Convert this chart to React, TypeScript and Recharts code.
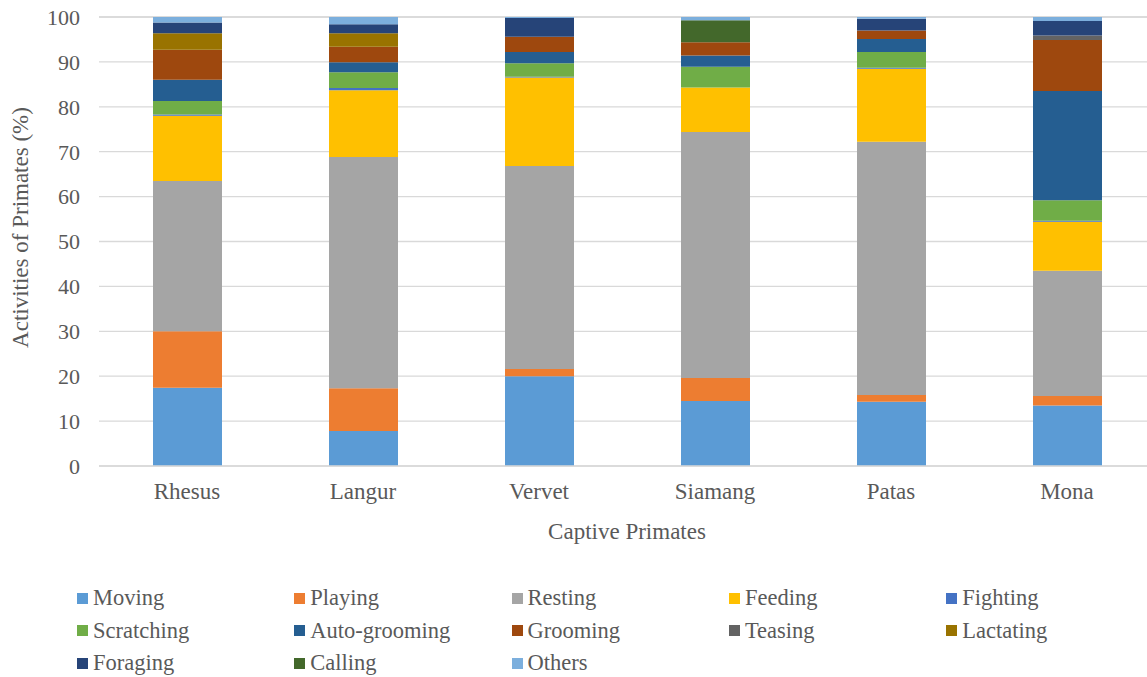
import React from 'react';
import { BarChart, Bar, XAxis, YAxis, CartesianGrid, Label } from 'recharts';

const primates = ['Rhesus', 'Langur', 'Vervet', 'Siamang', 'Patas', 'Mona'];

// activity shares (%) per primate, bottom of stack first
const moving = [17.4, 7.8, 20.0, 14.5, 14.3, 13.5];
const playing = [12.6, 9.5, 1.6, 5.1, 1.5, 2.1];
const resting = [33.5, 51.5, 45.2, 54.8, 56.4, 27.9];
const feeding = [14.5, 14.9, 19.7, 9.9, 16.3, 10.9];
const fighting = [0.3, 0.5, 0.2, 0, 0.2, 0.2];
const scratching = [3.0, 3.5, 3.0, 4.6, 3.5, 4.6];
const autoGrooming = [4.7, 2.2, 2.5, 2.5, 2.9, 24.3];
const grooming = [6.7, 3.5, 3.4, 3.0, 1.9, 11.4];
const teasing = [0, 0, 0, 0, 0, 1.0];
const lactating = [3.7, 3.0, 0, 0, 0, 0];
const foraging = [2.4, 2.0, 4.2, 0, 2.6, 3.2];
const calling = [0, 0, 0, 4.9, 0, 0];
const others = [1.2, 1.6, 0.2, 0.7, 0.4, 0.9];

const yTicks = [0, 10, 20, 30, 40, 50, 60, 70, 80, 90, 100];

const series = [
  { key: 'Moving', values: moving, color: '#5B9BD5' },
  { key: 'Playing', values: playing, color: '#ED7D31' },
  { key: 'Resting', values: resting, color: '#A5A5A5' },
  { key: 'Feeding', values: feeding, color: '#FFC000' },
  { key: 'Fighting', values: fighting, color: '#4472C4' },
  { key: 'Scratching', values: scratching, color: '#70AD47' },
  { key: 'Auto-grooming', values: autoGrooming, color: '#255E91' },
  { key: 'Grooming', values: grooming, color: '#9E480E' },
  { key: 'Teasing', values: teasing, color: '#636363' },
  { key: 'Lactating', values: lactating, color: '#997300' },
  { key: 'Foraging', values: foraging, color: '#264478' },
  { key: 'Calling', values: calling, color: '#43682B' },
  { key: 'Others', values: others, color: '#7CAFDD' },
];

const data = primates.map((name, i) => {
  const row: Record<string, string | number> = { name };
  series.forEach((s) => {
    row[s.key] = s.values[i];
  });
  return row;
});

const FONT = 'Liberation Serif';
const TEXT = '#595959';

function ChartLegend() {
  return (
    <div
      style={{
        position: 'absolute',
        left: 77,
        top: 582,
        display: 'grid',
        gridTemplateColumns: 'repeat(5, 217.3px)',
        gridAutoRows: '32.5px',
        fontFamily: FONT,
        fontSize: 22.5,
        lineHeight: '32px',
        color: TEXT,
      }}
    >
      {series.map((s) => (
        <div key={s.key} style={{ display: 'flex', alignItems: 'center', whiteSpace: 'nowrap' }}>
          <span style={{ width: 11, height: 11, background: s.color, marginRight: 5, flex: 'none' }} />
          <span>{s.key}</span>
        </div>
      ))}
    </div>
  );
}

export default function App() {
  return (
    <div
      style={{
        position: 'fixed',
        left: 0,
        top: 0,
        width: 1147,
        height: 677,
        overflow: 'hidden',
        background: '#fff',
        fontFamily: FONT,
      }}
    >
      <BarChart
        width={1160}
        height={677}
        data={data}
        margin={{ top: 17, right: 5, left: 0, bottom: 131 }}
        barSize={69}
      >
        <CartesianGrid vertical={false} stroke="#D9D9D9" strokeWidth={1.3} />
        <XAxis
          dataKey="name"
          height={80}
          axisLine={{ stroke: '#D9D9D9', strokeWidth: 1.3 }}
          tickLine={false}
          tickSize={0}
          tickMargin={17}
          tick={{ fill: TEXT, fontSize: 23, fontFamily: FONT }}
        >
          <Label
            value="Captive Primates"
            position="insideBottom"
            offset={7}
            fill={TEXT}
            fontSize={23}
            fontFamily={FONT}
          />
        </XAxis>
        <YAxis
          width={99}
          domain={[0, 100]}
          ticks={yTicks}
          interval={0}
          axisLine={false}
          tickLine={false}
          tickSize={0}
          tickMargin={19}
          tick={{ fill: TEXT, fontSize: 22, fontFamily: FONT }}
        >
          <Label
            value="Activities of Primates (%)"
            angle={-90}
            position="center"
            dx={-30}
            dy={-14}
            fill={TEXT}
            fontSize={23}
            fontFamily={FONT}
          />
        </YAxis>
        {series.map((s) => (
          <Bar
            key={s.key}
            dataKey={s.key}
            stackId="a"
            fill={s.color}
            isAnimationActive={false}
          />
        ))}
      </BarChart>
      <ChartLegend />
    </div>
  );
}
